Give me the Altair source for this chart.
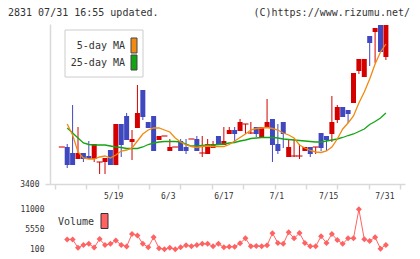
import altair as alt
import pandas as pd

# Daily candles (yen), oldest first
opens = [3474, 3474, 3462, 3450, 3462, 3456, 3450, 3444, 3444, 3468, 3438, 3520, 3536, 3484, 3512,
         3588, 3524, 3536, 3488, 3496, 3466, 3474, 3486, 3474, 3490, 3490, 3462, 3460, 3472, 3496,
         3478, 3500, 3508, 3506, 3520, 3502, 3514, 3494, 3512, 3530, 3480, 3524, 3454, 3456, 3456,
         3466, 3474, 3474, 3502, 3496, 3500, 3528, 3554, 3548, 3562, 3626, 3614, 3696, 3704, 3718, 3654]
closes = [3474, 3438, 3438, 3462, 3450, 3450, 3480, 3444, 3452, 3438, 3520, 3478, 3488, 3490, 3542,
          3534, 3512, 3466, 3496, 3496, 3474, 3474, 3466, 3466, 3490, 3466, 3462, 3480, 3480, 3478,
          3486, 3508, 3500, 3524, 3520, 3502, 3500, 3514, 3524, 3478, 3466, 3500, 3474, 3456, 3456,
          3474, 3460, 3474, 3472, 3488, 3524, 3554, 3534, 3540, 3622, 3650, 3650, 3682, 3712, 3664, 3718]
highs = [3474, 3480, 3558, 3514, 3462, 3486, 3480, 3444, 3452, 3468, 3520, 3520, 3542, 3508, 3598,
         3588, 3524, 3536, 3496, 3496, 3490, 3474, 3490, 3490, 3490, 3496, 3496, 3490, 3486, 3496,
         3514, 3514, 3514, 3530, 3520, 3524, 3514, 3514, 3570, 3530, 3520, 3524, 3490, 3490, 3480,
         3474, 3474, 3474, 3502, 3496, 3576, 3558, 3554, 3548, 3622, 3650, 3650, 3696, 3712, 3718, 3718]
lows = [3474, 3432, 3438, 3450, 3444, 3450, 3444, 3420, 3420, 3438, 3438, 3454, 3488, 3448, 3512,
        3528, 3512, 3466, 3488, 3496, 3466, 3474, 3466, 3460, 3490, 3466, 3454, 3460, 3472, 3478,
        3478, 3500, 3484, 3506, 3500, 3500, 3494, 3494, 3512, 3444, 3460, 3472, 3454, 3454, 3450,
        3466, 3454, 3460, 3466, 3466, 3484, 3522, 3534, 3522, 3562, 3620, 3614, 3636, 3642, 3664, 3648]

# Moving averages and volume (no value on the first day)
ma5 = [None, 3520, 3498, 3464, 3452, 3450, 3450, 3454, 3456, 3452, 3458, 3466, 3468, 3472, 3486, 3500,
       3508, 3512, 3512, 3508, 3504, 3492, 3484, 3478, 3475, 3473, 3475, 3476, 3475, 3475, 3475,
       3479, 3486, 3493, 3500, 3508, 3511, 3512, 3513, 3511, 3508, 3502, 3498, 3492, 3478, 3472,
       3467, 3464, 3463, 3466, 3474, 3490, 3510, 3522, 3536, 3562, 3584, 3610, 3640, 3664, 3680]
ma25 = [None, 3512, 3502, 3492, 3482, 3479, 3478, 3478, 3478, 3476, 3474, 3473, 3471, 3471, 3471, 3474,
        3479, 3482, 3484, 3485, 3485, 3485, 3484, 3480, 3476, 3476, 3477, 3478, 3478, 3479, 3480,
        3482, 3483, 3486, 3488, 3491, 3492, 3493, 3493, 3493, 3492, 3490, 3489, 3488, 3487, 3486,
        3485, 3484, 3484, 3486, 3488, 3490, 3493, 3497, 3500, 3505, 3510, 3519, 3525, 3532, 3542]
volume = [None, 2700, 2700, 450, 1200, 1500, 500, 2800, 1200, 1500, 2400, 1200, 800, 4200, 3800, 1500,
          600, 3300, 300, 60, 450, 40, 560, 1100, 840, 1200, 1500, 1500, 840, 1500, 560,
          730, 730, 1650, 3000, 840, 920, 840, 1100, 4400, 1750, 1500, 4650, 3000, 4450, 1750,
          840, 840, 3550, 1750, 4200, 2550, 1500, 3000, 3000, 10900, 2750, 2300, 3300, 200, 1200]

date_labels = ["5/19", "6/3", "6/17", "7/1", "7/15", "7/31"]
date_label_pos = [9.6, 19.7, 30.0, 39.8, 49.4, 59.8]

price_ticks = [3400]
volume_ticks = [100, 5550, 11000]

legend_labels = ["5-day MA", "25-day MA"]
RED, BLUE = "#d40000", "#4048c0"
ORANGE, GREEN = "#f28a10", "#13a513"
VOL = "#ff6262"
legend_colors = [ORANGE, GREEN]

FONT = "DejaVu Sans Mono"
AXIS_GRAY = "#d9d9d9"
TEXT = "#333333"

n = len(closes)
df = pd.DataFrame({
    "i": list(range(n)), "open": opens, "high": highs, "low": lows, "close": closes,
    "ma5": ma5, "ma25": ma25, "volume": volume,
})
df["dir"] = ["down" if c < o else "up" for o, c in zip(opens, closes)]

x_lo, x_hi = -1.26, 62.61
x_ticks = [x_lo + k * (x_hi - x_lo) / 11 for k in range(12)]
x_scale = alt.Scale(domain=[x_lo, x_hi], nice=False, zero=False)
x_axis = alt.Axis(values=x_ticks, labels=False, title=None, grid=False, offset=-66,
                  domainColor=AXIS_GRAY, domainWidth=1.5, tickColor=AXIS_GRAY,
                  tickWidth=1.5, tickSize=5)

price_scale = alt.Scale(domain=[3400, 3720], range=[160, 0], nice=False, zero=False)
price_axis = alt.Axis(values=price_ticks, format="d", orient="left", title=None, grid=False,
                      domainColor=AXIS_GRAY, domainWidth=1.5, tickColor=AXIS_GRAY,
                      tickWidth=1.5, tickSize=5, labelPadding=6, labelFont=FONT,
                      labelFontSize=8, labelColor=TEXT)
vol_scale = alt.Scale(domain=[100, 11000], range=[225, 185], nice=False, zero=False)
vol_axis = alt.Axis(values=volume_ticks, format="d", orient="left", title=None, grid=False,
                    domain=False, ticks=False, tickSize=0, labelPadding=6, labelFont=FONT,
                    labelFontSize=8, labelColor=TEXT)

X = alt.X("i:Q", scale=x_scale, axis=x_axis)
color = alt.Color("dir:N", scale=alt.Scale(domain=["up", "down"], range=[RED, BLUE]), legend=None)


def py(field):
    return alt.Y(field, type="quantitative", scale=price_scale, axis=price_axis)


base = alt.Chart(df)
wicks = base.mark_rule(strokeWidth=1).encode(x=X, y=py("low"), y2="high", color=color)
bodies = base.mark_bar(size=5).transform_filter("datum.open != datum.close").encode(
    x=X, y=py("open"), y2="close", color=color)
dojis = base.mark_tick(size=6, thickness=1.5, orient="horizontal").transform_filter(
    "datum.open == datum.close").encode(x=X, y=py("close"), color=color)
ma25_line = base.mark_line(strokeWidth=1.3, color=GREEN).encode(x=X, y=py("ma25"))
ma5_line = base.mark_line(strokeWidth=1.3, color=ORANGE).encode(x=X, y=py("ma5"))

dates = alt.Chart(pd.DataFrame({"pos": date_label_pos, "label": date_labels})).mark_text(
    font=FONT, fontSize=8, color=TEXT, baseline="middle", align="center"
).encode(x=alt.X("pos:Q", scale=x_scale, axis=x_axis), y=alt.value(173), text="label:N")

one = pd.DataFrame({"k": [0]})
header_left = alt.Chart(one).mark_text(
    text="2831 07/31 16:55 updated.", font=FONT, fontSize=10, color=TEXT,
    align="left", baseline="middle").encode(x=alt.value(-42), y=alt.value(-11.5))
header_right = alt.Chart(one).mark_text(
    text="(C)https://www.rizumu.net/", font=FONT, fontSize=10, color=TEXT,
    align="right", baseline="middle").encode(x=alt.value(360), y=alt.value(-11.5))

legend_box = alt.Chart(one).mark_rect(fill="white", stroke="#cccccc", strokeWidth=1).encode(
    x=alt.value(15), x2=alt.value(93), y=alt.value(6), y2=alt.value(53))
legend_layers = [legend_box]
for k, (lab, col) in enumerate(zip(legend_labels, legend_colors)):
    cy = 22 + 17 * k
    legend_layers.append(alt.Chart(one).mark_text(
        text=lab, font=FONT, fontSize=10, color=TEXT, align="right", baseline="middle"
    ).encode(x=alt.value(75), y=alt.value(cy)))
    legend_layers.append(alt.Chart(one).mark_rect(fill=col, stroke="#444444", strokeWidth=1).encode(
        x=alt.value(81), x2=alt.value(87), y=alt.value(cy - 8), y2=alt.value(cy + 7)))

price_panel = alt.layer(wicks, bodies, dojis, ma25_line, ma5_line, dates,
                        header_left, header_right, *legend_layers)

vy = alt.Y("volume:Q", scale=vol_scale, axis=vol_axis)
vol_line = base.mark_line(strokeWidth=1, color=VOL).encode(x=X, y=vy)
vol_pts = base.mark_point(shape="diamond", filled=True, size=36, color=VOL, opacity=1).encode(x=X, y=vy)
vol_text = alt.Chart(one).mark_text(
    text="Volume", font=FONT, fontSize=10, color=TEXT, align="left", baseline="middle"
).encode(x=alt.value(8), y=alt.value(198))
vol_swatch = alt.Chart(one).mark_rect(fill=VOL, stroke="#333333", strokeWidth=1).encode(
    x=alt.value(51), x2=alt.value(58), y=alt.value(189.5), y2=alt.value(204.5))
volume_panel = alt.layer(vol_line, vol_pts, vol_text, vol_swatch)

chart = alt.layer(price_panel, volume_panel).resolve_scale(y="independent").properties(
    width=355, height=226,
    background="white",
    autosize=alt.AutoSizeParams(type="none"),
    padding={"left": 50, "top": 24, "right": 15, "bottom": 9},
).configure_view(stroke=None)

chart.save("out.html", embed_options={"renderer": "svg", "actions": False})
